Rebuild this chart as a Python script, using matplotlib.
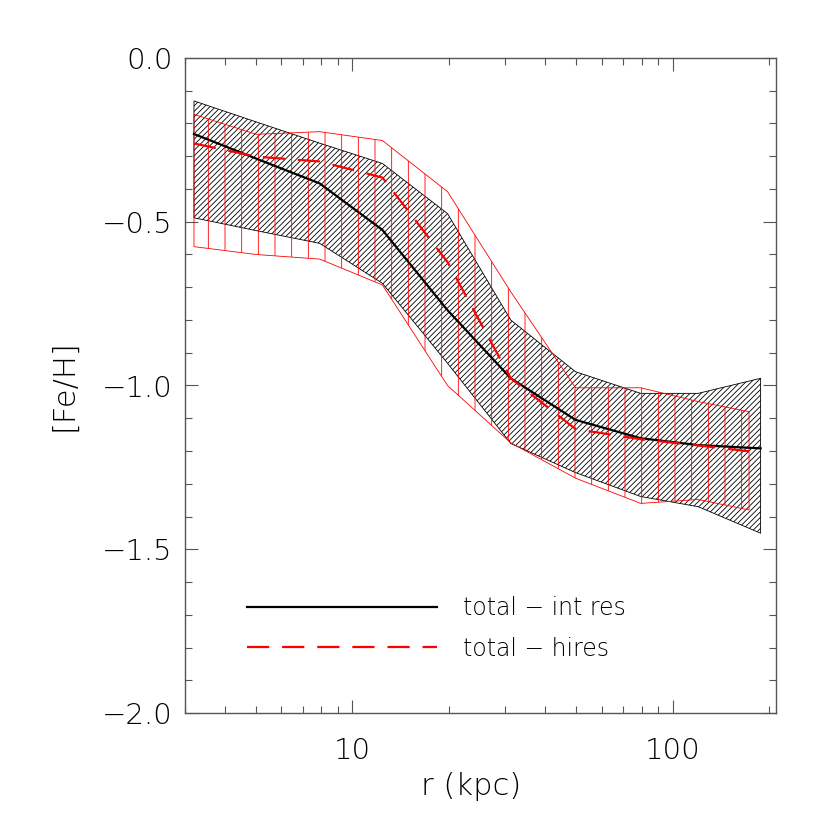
import matplotlib
matplotlib.use('agg')
import matplotlib.pyplot as plt
from matplotlib.ticker import FixedLocator, NullFormatter, LogLocator

# radial bins (kpc)
r_int = [3.2, 5.0, 7.9, 12.4, 19.8, 31.2, 49.7, 79.4, 120, 188]
r_hi = [3.2, 5.0, 7.9, 12.4, 19.8, 31.2, 49.7, 79.4, 120, 173]

# [Fe/H] profiles, int res run
feh_int = [-0.232, -0.307, -0.383, -0.525, -0.77, -0.978, -1.105, -1.161, -1.182, -1.192]
feh_int_hi = [-0.131, -0.195, -0.26, -0.322, -0.475, -0.80, -0.958, -1.024, -1.024, -0.978]
feh_int_lo = [-0.488, -0.527, -0.566, -0.688, -0.932, -1.177, -1.266, -1.339, -1.370, -1.451]

# hires run
feh_hi = [-0.261, -0.301, -0.316, -0.365, -0.623, -0.978, -1.133, -1.164, -1.183, -1.201]
feh_hi_hi = [-0.172, -0.233, -0.225, -0.252, -0.408, -0.714, -1.007, -1.007, -1.049, -1.08]
feh_hi_lo = [-0.576, -0.600, -0.614, -0.693, -1.00, -1.175, -1.283, -1.36, -1.348, -1.38]

labels = ['total \u2212 int res', 'total \u2212 hires']

plt.rcParams['font.family'] = 'DejaVu Sans'
plt.rcParams['font.weight'] = 'ultralight'
plt.rcParams['axes.labelweight'] = 'ultralight'
plt.rcParams['font.size'] = 17
plt.rcParams['hatch.linewidth'] = 0.6

fig = plt.figure(figsize=(8.3, 8.3), dpi=100)
ax = fig.add_axes([185/830, 117/830, 591/830, 655/830])

ax.fill_between(r_int, feh_int_lo, feh_int_hi, facecolor='none',
                edgecolor='black', hatch='//////', linewidth=0.6, zorder=1)
ax.fill_between(r_hi, feh_hi_lo, feh_hi_hi, facecolor='none',
                edgecolor='red', hatch='|', linewidth=0.6, zorder=2)
ax.plot(r_int, feh_int, color='black', lw=1.6, zorder=3, label=labels[0])
ax.plot(r_hi, feh_hi, color='red', lw=1.6, ls=(0, (10, 5.8)), zorder=4,
        label=labels[1])

ax.set_xscale('log')
ax.set_xlim(3, 210)
ax.set_ylim(-2.0, 0.0)

ax.xaxis.set_major_locator(FixedLocator([10, 100]))
ax.set_xticklabels(['10', '100'])
ax.xaxis.set_minor_locator(LogLocator(base=10, subs=range(2, 10)))
ax.xaxis.set_minor_formatter(NullFormatter())
ax.set_yticks([0.0, -0.5, -1.0, -1.5, -2.0])
ax.set_yticklabels(['0.0', '\u22120.5', '\u22121.0', '\u22121.5', '\u22122.0'])
ax.yaxis.set_minor_locator(FixedLocator([-0.1*i for i in range(21)]))

for s in ax.spines.values():
    s.set_color('#555555')
    s.set_linewidth(1.0)
ax.tick_params(which='both', direction='in', top=True, right=True,
               color='#555555', width=0.8, labelsize=21)
ax.tick_params(which='major', length=9.5, pad=9)
ax.tick_params(which='minor', length=4.7)
ax.tick_params(axis='x', which='major', pad=17)

ax.set_xlabel('r (kpc)', fontweight='ultralight', fontsize=22)
ax.set_ylabel('[Fe/H]', fontweight='ultralight', fontsize=22)
ax.xaxis.set_label_coords(0.484, -0.09)
ax.yaxis.set_label_coords(-0.18, 0.5)

ax.legend(loc='lower left', bbox_to_anchor=(0.105, 0.08), frameon=False,
          handlelength=8.05, handletextpad=1.1, labelspacing=0.7,
          borderpad=0, borderaxespad=0)

fig.savefig('out.png', dpi=100)
